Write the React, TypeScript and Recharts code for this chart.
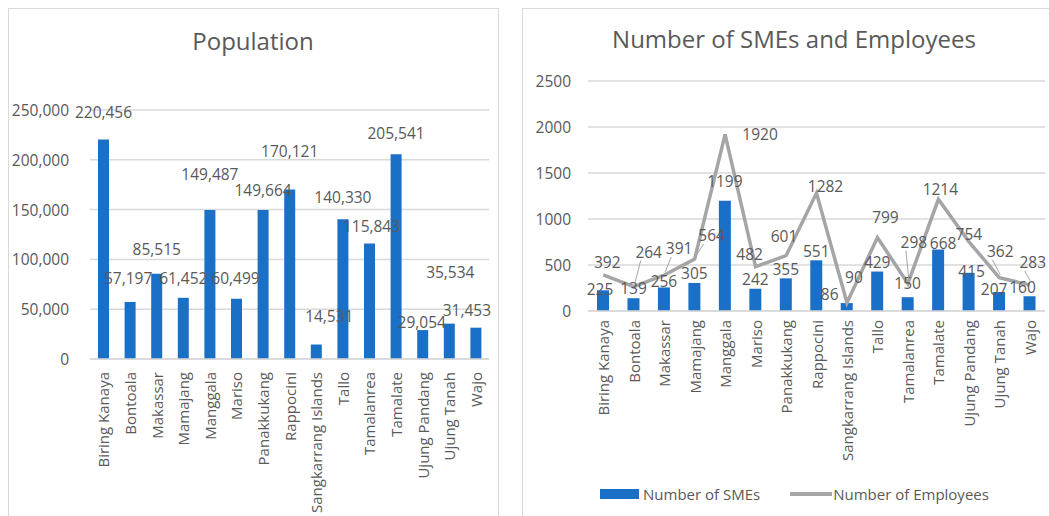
import React from 'react';
import {
  Bar,
  BarChart,
  CartesianGrid,
  ComposedChart,
  LabelList,
  Legend,
  Line,
  XAxis,
  YAxis,
} from 'recharts';

const districts = [
  'Biring Kanaya',
  'Bontoala',
  'Makassar',
  'Mamajang',
  'Manggala',
  'Mariso',
  'Panakkukang',
  'Rappocini',
  'Sangkarrang Islands',
  'Tallo',
  'Tamalanrea',
  'Tamalate',
  'Ujung Pandang',
  'Ujung Tanah',
  'Wajo',
];

const population = [
  220456, 57197, 85515, 61452, 149487, 60499, 149664, 170121, 14531, 140330, 115843, 205541, 29054,
  35534, 31453,
];

const smes = [225, 139, 256, 305, 1199, 242, 355, 551, 86, 429, 150, 668, 415, 207, 160];
const employees = [392, 264, 391, 564, 1920, 482, 601, 1282, 90, 799, 298, 1214, 754, 362, 283];

const popTicks = [0, 50000, 100000, 150000, 200000, 250000];
const smeTicks = [0, 500, 1000, 1500, 2000, 2500];

// label nudges (px) as the labels were dragged in the original sheet
const popLabelDx = [0, -2, 0, 0, 0, -1, 0, 0, 13, 0, 2, 0, -1, 1, -9];
const popLabelDy = [27, 24, 25, 20, 36, 21, 20, 39, 29, 22, 18, 21, 8, 52, 18];
const smeLabelDx = [-3, 0, 0, 0, 0, 0, 0, 0, -17, 0, 0, 5, 3, -5, -7];
const smeLabelDy = [1, 10, 6, 10, 20, 10, 9, 9, 9, 10, 14, 7, 2, 3, 9];
const empLabelDx = [4, 15, 15, 17, 35, -6, -2, 9, 7, 8, 6, 2, 0, 1, 3];
const empLabelDy = [13, 35, 27, 24, 0, 13, 20, 7, 26, 20, 42, 10, 8, 27, 23];
const empLeader = [false, true, true, true, false, false, false, false, false, false, true, false, false, true, true];

const TEXT = '#595959';
const GRID = '#d9d9d9';
const BLUE = '#1a70c6';
const GRAY = '#a5a5a5';
const FONT = '"Open Sans", sans-serif';

const popData = districts.map((name, i) => ({ name, population: population[i] }));
const smeData = districts.map((name, i) => ({ name, smes: smes[i], employees: employees[i] }));

const fmt = (v: number) => v.toLocaleString('en-US');

function makeXTick(shift: number) {
  return (props: any) => {
    const { x, y, payload } = props;
    const ty = y + shift;
    return (
      <text
        x={x}
        y={ty}
        transform={`rotate(-90 ${x} ${ty})`}
        textAnchor="end"
        dominantBaseline="central"
        fill={TEXT}
        fontSize={15}
        fontFamily={FONT}
      >
        {payload.value}
      </text>
    );
  };
}

function makeYTick(shift: number, format: (v: number) => string) {
  return (props: any) => {
    const { x, y, payload } = props;
    return (
      <text
        x={x + shift}
        y={y}
        textAnchor="end"
        dominantBaseline="central"
        fill={TEXT}
        fontSize={15.5}
        fontFamily={FONT}
      >
        {format(payload.value)}
      </text>
    );
  };
}

const popLabel = (props: any) => {
  const { x, y, width, value, index } = props;
  return (
    <text
      x={x + width / 2 + popLabelDx[index]}
      y={y - popLabelDy[index]}
      textAnchor="middle"
      dominantBaseline="central"
      fill={TEXT}
      fontSize={15.5}
      fontFamily={FONT}
    >
      {fmt(value)}
    </text>
  );
};

const smeLabel = (props: any) => {
  const { x, y, width, value, index } = props;
  return (
    <text
      x={x + width / 2 + smeLabelDx[index]}
      y={y - smeLabelDy[index]}
      textAnchor="middle"
      dominantBaseline="central"
      fill={TEXT}
      fontSize={15.5}
      fontFamily={FONT}
    >
      {value}
    </text>
  );
};

const empLabel = (props: any) => {
  const { x, y, value, index } = props;
  const lx = x + empLabelDx[index];
  const ly = y - empLabelDy[index];
  return (
    <g>
      {empLeader[index] && (
        <line x1={x + 1} y1={y - 3} x2={lx - 8} y2={ly + 9} stroke={GRAY} strokeWidth={1} />
      )}
      <text
        x={lx}
        y={ly}
        textAnchor="middle"
        dominantBaseline="central"
        fill={TEXT}
        fontSize={15.5}
        fontFamily={FONT}
      >
        {value}
      </text>
    </g>
  );
};

const legendContent = () => (
  <div
    style={{
      display: 'flex',
      alignItems: 'center',
      height: 24,
      paddingLeft: 78,
      fontFamily: FONT,
      fontSize: 15,
      color: TEXT,
    }}
  >
    <span style={{ width: 39, height: 10, background: BLUE, marginRight: 4 }} />
    <span>Number of SMEs</span>
    <span style={{ width: 42, height: 4, background: GRAY, marginLeft: 30, marginRight: 1 }} />
    <span>Number of Employees</span>
  </div>
);

function Title({ text, width, baseline }: { text: string; width: number; baseline: number }) {
  return (
    <svg width={width} height={60} style={{ position: 'absolute', left: 0, top: 0 }}>
      <text x={width / 2} y={baseline} textAnchor="middle" fill={TEXT} fontSize={24} fontFamily={FONT}>
        {text}
      </text>
    </svg>
  );
}

export default function App() {
  return (
    <div
      style={{
        position: 'absolute',
        left: 0,
        top: 0,
        width: 1049,
        height: 516,
        overflow: 'hidden',
        background: '#fff',
        fontFamily: FONT,
      }}
    >
      <div
        style={{
          position: 'absolute',
          left: 8,
          top: 8,
          width: 489,
          height: 520,
          border: `1px solid ${GRID}`,
        }}
      />
      <div
        style={{
          position: 'absolute',
          left: 522,
          top: 8,
          width: 544,
          height: 520,
          border: `1px solid ${GRID}`,
        }}
      />

      <div style={{ position: 'absolute', left: 8, top: 0, width: 490, height: 60 }}>
        <Title text="Population" width={490} baseline={50} />
      </div>
      <div style={{ position: 'absolute', left: 522, top: 0, width: 544, height: 60 }}>
        <Title text="Number of SMEs and Employees" width={544} baseline={48} />
      </div>

      <div style={{ position: 'absolute', left: 0, top: 0 }}>
        <BarChart
          width={498}
          height={516}
          data={popData}
          margin={{ top: 110, right: 9, bottom: 0, left: 0 }}
        >
          <CartesianGrid vertical={false} stroke={GRID} strokeWidth={1.5} />
          <XAxis
            dataKey="name"
            interval={0}
            height={157}
            tickLine={false}
            axisLine={{ stroke: GRID, strokeWidth: 1.5 }}
            tick={makeXTick(5)}
          />
          <YAxis
            width={90}
            domain={[0, 250000]}
            ticks={popTicks}
            tickLine={false}
            axisLine={false}
            tick={makeYTick(-13, fmt)}
          />
          <Bar dataKey="population" fill={BLUE} barSize={11} isAnimationActive={false}>
            <LabelList dataKey="population" content={popLabel} />
          </Bar>
        </BarChart>
      </div>

      <div style={{ position: 'absolute', left: 522, top: 0 }}>
        <ComposedChart
          width={527}
          height={516}
          data={smeData}
          margin={{ top: 81, right: 4, bottom: 10, left: 0 }}
        >
          <CartesianGrid vertical={false} stroke={GRID} strokeWidth={1.5} />
          <XAxis
            dataKey="name"
            interval={0}
            height={171}
            tickLine={false}
            axisLine={{ stroke: GRID, strokeWidth: 1.5 }}
            tick={makeXTick(1)}
          />
          <YAxis
            width={66}
            domain={[0, 2500]}
            ticks={smeTicks}
            tickLine={false}
            axisLine={false}
            tick={makeYTick(-9, (v) => String(v))}
          />
          <Legend
            verticalAlign="bottom"
            height={24}
            content={legendContent}
            wrapperStyle={{ left: 0, width: 527 }}
          />
          <Bar dataKey="smes" name="Number of SMEs" fill={BLUE} barSize={12} isAnimationActive={false}>
            <LabelList dataKey="smes" content={smeLabel} />
          </Bar>
          <Line
            dataKey="employees"
            name="Number of Employees"
            type="linear"
            stroke={GRAY}
            strokeWidth={3.5}
            dot={false}
            activeDot={false}
            isAnimationActive={false}
          >
            <LabelList dataKey="employees" content={empLabel} />
          </Line>
        </ComposedChart>
      </div>
    </div>
  );
}
